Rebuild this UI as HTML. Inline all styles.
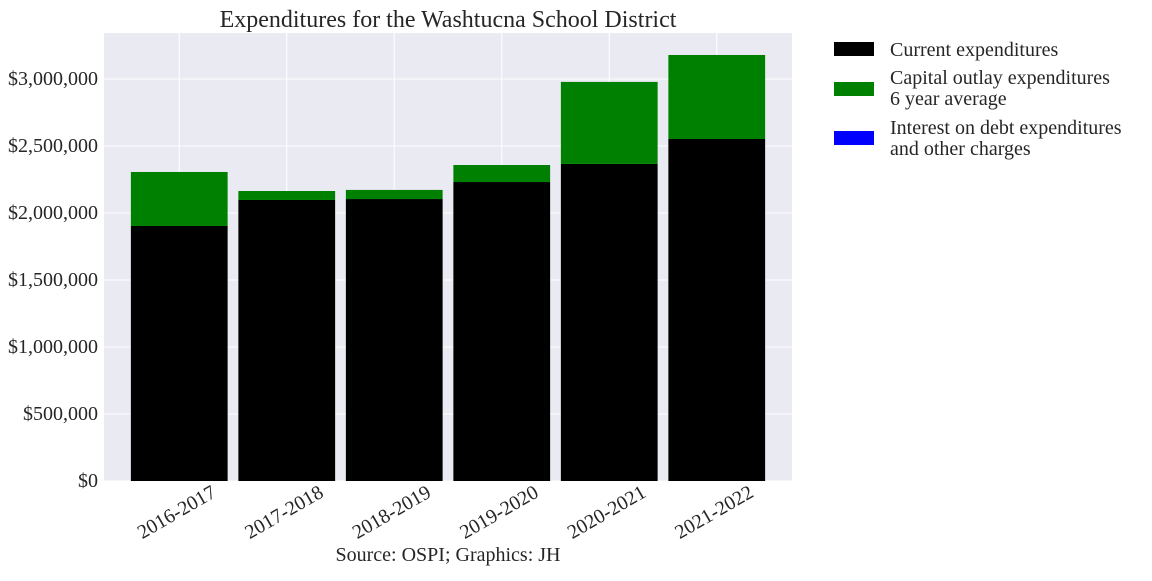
<!DOCTYPE html>
<html><head><meta charset="utf-8"><style>
body{margin:0;background:#fff;}
svg text{font-family:"Liberation Serif",serif;fill:#262626;}
</style></head><body>
<svg id="chart" width="1152" height="576">
<rect x="104" y="33" width="688" height="448" fill="#EAEAF2"/>
<g id="grid"></g><g id="bars"></g><g id="axes"></g>
<text x="448" y="27" text-anchor="middle" font-size="24">Expenditures for the Washtucna School District</text>
<text x="448" y="561" text-anchor="middle" font-size="20">Source: OSPI; Graphics: JH</text>
<g>
<rect x="834" y="42" width="40" height="14" fill="#000"/>
<text x="890" y="56" font-size="20">Current expenditures</text>
<rect x="834" y="82" width="40" height="14" fill="#008000"/>
<text x="890" y="84" font-size="20">Capital outlay expenditures</text>
<text x="890" y="105" font-size="20">6 year average</text>
<rect x="834" y="131" width="40" height="14" fill="#0000FF"/>
<text x="890" y="134" font-size="20">Interest on debt expenditures</text>
<text x="890" y="155" font-size="20">and other charges</text>
</g>
</svg>
<script>
const categories=["2016-2017","2017-2018","2018-2019","2019-2020","2020-2021","2021-2022"];
const currentExp=[1903000,2097000,2104000,2231000,2366000,2552000];
const capitalExp=[403000,67000,68000,127000,612000,627000];
const interestExp=[0,0,0,0,0,0];
const yTicks=[0,500000,1000000,1500000,2000000,2500000,3000000];
const yTickLabels=["$0","$500,000","$1,000,000","$1,500,000","$2,000,000","$2,500,000","$3,000,000"];

const NS="http://www.w3.org/2000/svg";
const L=104,R=792,T=33,B=481,xMin=-0.7,xMax=5.7,yMax=3343000;
const xs=i=>L+(i-xMin)/(xMax-xMin)*(R-L);
const ys=v=>B-v/yMax*(B-T);
const unit=(R-L)/(xMax-xMin);
function mk(tag,attrs,parent){const e=document.createElementNS(NS,tag);for(const k in attrs)e.setAttribute(k,attrs[k]);parent.appendChild(e);return e;}
const grid=document.getElementById('grid'),bars=document.getElementById('bars'),axes=document.getElementById('axes');
yTicks.forEach((v,i)=>{
  const l=mk('line',{x1:L,x2:R,y1:ys(v),y2:ys(v),stroke:'#fff','stroke-width':1},grid);
  
  
  const t=mk('text',{x:L-6,y:ys(v)+6,'text-anchor':'end','font-size':20},axes);
  t.textContent=yTickLabels[i];
  
  
});
categories.forEach((c,i)=>{
  const x=xs(i),w=unit*0.9;
  const g=mk('line',{x1:x,x2:x,y1:T,y2:B,stroke:'#fff','stroke-width':1},grid);
  
  
  let base=0;
  [[currentExp,'#000','current'],[capitalExp,'#008000','capital'],[interestExp,'#0000FF','interest']].forEach(([arr,col,nm])=>{
    const v=arr[i];
    if(v>0){
      const r=mk('rect',{x:x-w/2,y:ys(base+v),width:w,height:ys(base)-ys(base+v),fill:col},bars);
      
      
    }
    base+=v;
  });
  const ax=x+38,ay=B+15;
  const t=mk('text',{x:ax,y:ay,'text-anchor':'end','font-size':20,transform:`rotate(-30 ${ax} ${ay})`},axes);
  t.textContent=c;
  
  
});
</script>
</body></html>
